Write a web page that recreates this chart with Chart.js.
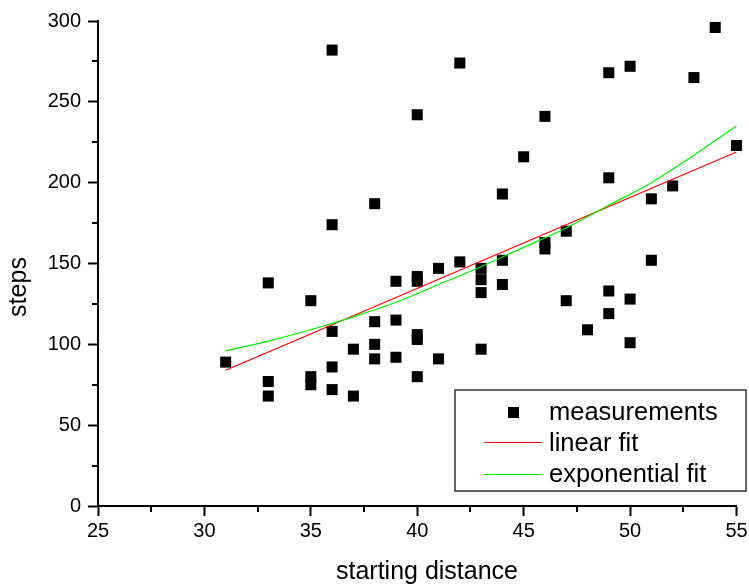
<!DOCTYPE html>
<html lang="en">
<head>
    <meta charset="UTF-8">
    <title>steps vs starting distance</title>
    <script src="https://cdn.jsdelivr.net/npm/chart.js"></script>
    <style>
        html, body { margin: 0; padding: 0; background: #fff; }
        #wrap { width: 749px; height: 585px; }
    </style>
</head>
<body>
    <div id="wrap"><canvas id="chartSteps"></canvas></div>

    <script>
        const distX = [31, 33, 33, 33, 35, 35, 35, 36, 36, 36, 36, 36, 37, 37,
                       38, 38, 38, 38, 39, 39, 39, 40, 40, 40, 40, 40, 40, 41, 41,
                       42, 42, 43, 43, 43, 43, 44, 44, 44, 45, 46, 46, 46, 47, 47,
                       48, 49, 49, 49, 49, 50, 50, 50, 51, 51, 52, 53, 54, 55];
        const stepsY = [89, 138, 77, 68, 127, 80, 75, 282, 174, 108, 86, 72, 97, 68,
                        187, 114, 100, 91, 139, 115, 92, 242, 142, 139, 106, 103, 80, 147, 91,
                        274, 151, 147, 140, 132, 97, 193, 152, 137, 216, 241, 163, 159, 170, 127,
                        109, 268, 203, 133, 119, 272, 128, 101, 190, 152, 198, 265, 296, 223];

        // fit curves
        const linX = [31, 55];
        const linY = [84, 219];
        const expX = [31, 33, 35, 37, 39, 41, 43, 45, 47, 49, 51, 53, 55];
        const expY = [96, 102, 109, 117, 126, 137, 148, 160, 172, 186, 200, 217, 235];

        const xTicksMinor = [27.5, 32.5, 37.5, 42.5, 47.5, 52.5];
        const yTicksMinor = [25, 75, 125, 175, 225, 275];

        const xTitle = 'starting distance';
        const yTitle = 'steps';

        const FONT = '"Liberation Sans", Arial, sans-serif';

        const pts = (xs, ys) => xs.map((x, i) => ({ x: x, y: ys[i] }));

        // minor ticks, axis titles, legend box
        const extras = {
            id: 'extras',
            afterDraw(chart) {
                const ctx = chart.ctx;
                const xs = chart.scales.x, ys = chart.scales.y;
                const area = chart.chartArea;
                ctx.save();
                ctx.strokeStyle = '#000';
                ctx.lineWidth = 2;
                ctx.beginPath();
                xTicksMinor.forEach(v => {
                    const px = Math.round(xs.getPixelForValue(v));
                    ctx.moveTo(px, area.bottom);
                    ctx.lineTo(px, area.bottom + 6);
                });
                yTicksMinor.forEach(v => {
                    const py = Math.round(ys.getPixelForValue(v));
                    ctx.moveTo(area.left - 6, py);
                    ctx.lineTo(area.left, py);
                });
                ctx.stroke();

                // axis titles
                ctx.fillStyle = '#000';
                ctx.font = '25px ' + FONT;
                ctx.textAlign = 'center';
                ctx.textBaseline = 'middle';
                ctx.fillText(xTitle, 427, 572);
                ctx.save();
                ctx.translate(19, 287);
                ctx.rotate(-Math.PI / 2);
                ctx.fillText(yTitle, 0, 0);
                ctx.restore();

                // legend
                const ds = chart.data.datasets;
                ctx.fillStyle = '#fff';
                ctx.fillRect(455, 390, 291, 101);
                ctx.strokeStyle = '#333';
                ctx.lineWidth = 1.5;
                ctx.strokeRect(455, 390, 291, 101);

                ctx.font = '25.5px ' + FONT;
                ctx.textBaseline = 'alphabetic';
                ctx.textAlign = 'left';
                ctx.fillStyle = '#000';

                ctx.fillRect(508, 407, 11, 11);
                ctx.fillText(ds[0].label, 549, 420);

                ctx.lineWidth = 1;
                ctx.strokeStyle = ds[1].borderColor;
                ctx.beginPath();
                ctx.moveTo(484, 442.5);
                ctx.lineTo(542, 442.5);
                ctx.stroke();
                ctx.fillText(ds[1].label, 549, 451);

                ctx.strokeStyle = ds[2].borderColor;
                ctx.beginPath();
                ctx.moveTo(484, 474.5);
                ctx.lineTo(542, 474.5);
                ctx.stroke();
                ctx.fillText(ds[2].label, 549, 482);
                ctx.restore();
            }
        };

        const ctx = document.getElementById('chartSteps').getContext('2d');
        const chart = new Chart(ctx, {
            type: 'scatter',
            data: {
                datasets: [{
                    label: 'measurements',
                    data: pts(distX, stepsY),
                    pointStyle: 'rect',
                    pointRadius: 7.8,
                    pointBorderWidth: 0,
                    backgroundColor: '#000',
                    borderColor: '#000',
                    clip: false,
                    order: 3
                }, {
                    label: 'linear fit',
                    data: pts(linX, linY),
                    showLine: true,
                    pointRadius: 0,
                    borderColor: '#ff0000',
                    borderWidth: 1.2,
                    clip: false,
                    order: 2
                }, {
                    label: 'exponential fit',
                    data: pts(expX, expY),
                    showLine: true,
                    pointRadius: 0,
                    borderColor: '#00ee00',
                    borderWidth: 1.2,
                    tension: 0.4,
                    clip: false,
                    order: 1
                }]
            },
            options: {
                responsive: true,
                maintainAspectRatio: false,
                animation: false,
                layout: { padding: { top: 21, right: 12.5, left: 0, bottom: 0 } },
                plugins: {
                    legend: { display: false },
                    tooltip: { enabled: false }
                },
                scales: {
                    x: {
                        type: 'linear',
                        min: 25, max: 55,
                        ticks: { stepSize: 5, padding: 3, color: '#000', font: { family: FONT, size: 20 } },
                        grid: { drawOnChartArea: false, drawTicks: true, tickLength: 10, tickWidth: 2, color: '#000' },
                        border: { display: true, color: '#000', width: 2 },
                        afterFit: s => { s.height = 79; s.paddingLeft = 0; s.paddingRight = 0; }
                    },
                    y: {
                        type: 'linear',
                        min: 0, max: 300,
                        ticks: { stepSize: 50, padding: 7, color: '#000', font: { family: FONT, size: 20 } },
                        grid: { drawOnChartArea: false, drawTicks: true, tickLength: 10, tickWidth: 2, color: '#000' },
                        border: { display: true, color: '#000', width: 2 },
                        afterFit: s => { s.width = 98; s.paddingTop = 0; s.paddingBottom = 0; }
                    }
                }
            },
            plugins: [extras]
        });
    </script>
</body>
</html>
